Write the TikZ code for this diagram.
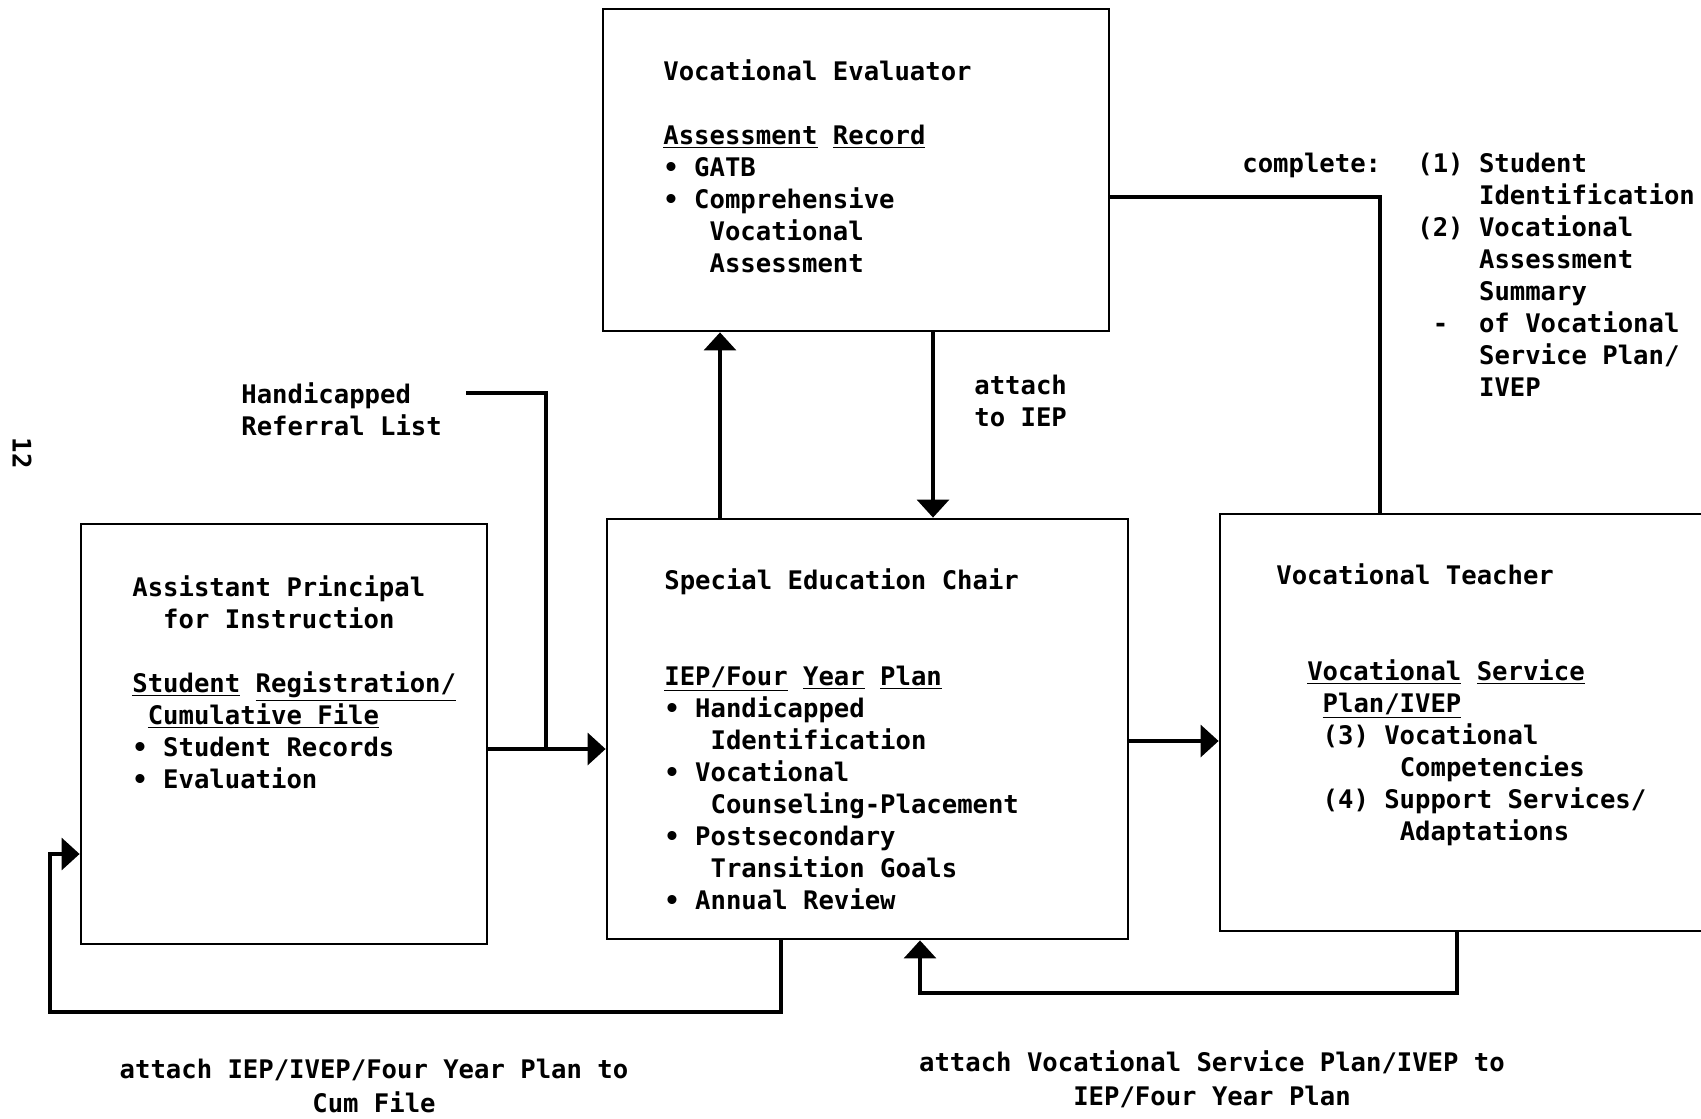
\documentclass[tikz,border=0pt]{standalone}
\usepackage{fontspec}
\setmonofont{DejaVu Sans Mono}
\usetikzlibrary{arrows.meta}
\newlength\chw
\setlength\chw{7.71pt}
\newcommand\ind[1]{\hspace*{#1\chw}}

\begin{document}
\begin{tikzpicture}[x=0.5pt,y=-0.5pt,
        every node/.style={font=\ttfamily\bfseries\fontsize{12.8}{16}\selectfont,inner sep=0pt},
        box/.style={draw,rectangle,line width=1.4pt},
        txt/.style={align=left,anchor=north west},
        note/.style={align=center,anchor=north},
        link/.style={line width=1.6pt},
        flow/.style={link,-{Triangle[length=9pt,width=16pt]}}]
    \useasboundingbox (0,0) rectangle (1701,1118);
    \clip (0,0) rectangle (1701,1118);
    % Boxes
    \node[box,minimum width=253pt,minimum height=161pt] (eval) at (856,170) {};
    \node[box,minimum width=260.5pt,minimum height=210pt] (chair) at (867.5,729) {};
    \node[box,minimum width=203pt,minimum height=210pt] (asst) at (284,734) {};
    \node[box,minimum width=260pt,minimum height=208.5pt] (teach) at (1480,722.5) {};
    % Box texts
    \node[txt] (evaltxt) at (663,59) {Vocational Evaluator\\[16pt]
        \underline{Assessment} \underline{Record}\\
        • GATB\\
        • Comprehensive\\
        \ind{3}Vocational\\
        \ind{3}Assessment};
    \node[txt] (chairtxt) at (664,568) {Special Education Chair\\[32pt]
        \underline{IEP/Four} \underline{Year} \underline{Plan}\\
        • Handicapped\\
        \ind{3}Identification\\
        • Vocational\\
        \ind{3}Counseling-Placement\\
        • Postsecondary\\
        \ind{3}Transition Goals\\
        • Annual Review};
    \node[txt] (assttxt) at (132,575) {Assistant Principal\\
        \ind{2}for Instruction\\[16pt]
        \underline{Student} \underline{Registration/}\\
        \ind{1}\underline{Cumulative File}\\
        • Student Records\\
        • Evaluation};
    \node[txt] (teachtxt) at (1276,563) {Vocational Teacher\\[32pt]
        \ind{2}\underline{Vocational} \underline{Service}\\
        \ind{3}\underline{Plan/IVEP}\\
        \ind{3}(3) Vocational\\
        \ind{8}Competencies\\
        \ind{3}(4) Support Services/\\
        \ind{8}Adaptations};
    % Loose labels
    \node[txt] (complete) at (1242,153) {complete:};
    \node[txt] (items) at (1417,153) {(1) Student\\
        \ind{4}Identification\\
        (2) Vocational\\
        \ind{4}Assessment\\
        \ind{4}Summary\\
        \ind{1}-\ind{2}of Vocational\\
        \ind{4}Service Plan/\\
        \ind{4}IVEP};
    \node[txt] (referral) at (241,382) {Handicapped\\Referral List};
    \node[txt] (attach) at (974,375) {attach\\to IEP};
    \node[note] (cumnote) at (374,1059) {attach IEP/IVEP/Four Year Plan to\\[1pt]Cum File};
    \node[note] (vspnote) at (1212,1050) {attach Vocational Service Plan/IVEP to\\[1pt]IEP/Four Year Plan};
    \node[rotate=-90] (pagenum) at (22,453) {12};
    % Connector points
    \coordinate (xup) at (720,0);
    \coordinate (xdown) at (933,0);
    \coordinate (comp) at (1380,197);
    \coordinate (yleft) at (0,749);
    \coordinate (yright) at (0,741);
    \coordinate (hstart) at (466,393);
    \coordinate (hjoin) at (546,749);
    \coordinate (bl1) at (781,1012);
    \coordinate (bl2) at (50,854);
    \coordinate (br1) at (1457,993);
    \coordinate (br2) at (920,993);
    % Connectors
    \draw[flow] (chair.north -| xup) -- (eval.south -| xup);
    \draw[flow] (eval.south -| xdown) -- (chair.north -| xdown);
    \draw[link] (eval.east |- comp) -| (teach.north -| comp);
    \draw[flow] (asst.east |- yleft) -- (chair.west |- yleft);
    \draw[link] (hstart) -| (hjoin);
    \draw[flow] (chair.east |- yright) -- (teach.west |- yright);
    \draw[flow] (chair.south -| bl1) |- (bl2 |- bl1) |- (asst.west |- bl2);
    \draw[flow] (teach.south -| br1) |- (br2) -- (chair.south -| br2);
\end{tikzpicture}
\end{document}
